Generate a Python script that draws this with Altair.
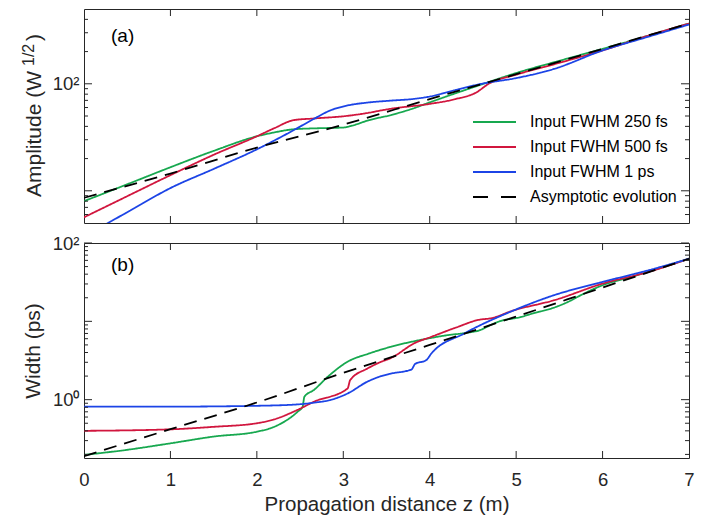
import altair as alt
import pandas as pd

FONT = "Liberation Sans"
AX = "#262626"

series_names = ["Input FWHM 250 fs", "Input FWHM 500 fs", "Input FWHM 1 ps", "Asymptotic evolution"]
series_colors = ["#17a84f", "#d1163e", "#1c44e6", "#000000"]
series_dash = [[1, 0], [1, 0], [1, 0], [13, 8]]
legend_dash = [[1, 0], [1, 0], [1, 0], [15, 13]]

# ---- panel (a): amplitude (W^1/2) ----
za_250 = [0, 0.5, 1, 1.5, 2, 2.2, 2.43, 2.7, 3.0, 3.1, 3.3, 3.55, 3.8, 4.0, 4.3, 4.6, 5.0, 5.5, 6.0, 6.5, 7.0]
amp_250 = [8.0, 11.5, 16.6, 23.6, 32.3, 35.1, 37.6, 38.4, 39.0, 40.6, 45.8, 51.0, 58.5, 67, 81.6, 98.6, 126, 164, 212, 277, 366]

za_500 = [0, 0.5, 1, 1.5, 2, 2.2, 2.43, 2.66, 3.05, 3.3, 3.44, 3.55, 4.0, 4.3, 4.55, 4.67, 5.0, 5.5, 6.0, 6.5, 7.0]
amp_500 = [5.65, 8.9, 14.0, 21.7, 32.3, 38.4, 45.8, 47.4, 50.2, 53.7, 56.4, 58.4, 64.9, 72, 84, 98.6, 121.6, 157, 205, 277, 366]

za_1ps = [0, 0.5, 1, 1.5, 2, 2.43, 2.66, 2.85, 3.05, 3.3, 3.55, 3.8, 4.0, 4.3, 4.6, 5.0, 5.44, 6.0, 6.5, 7.0]
amp_1ps = [3.75, 6.3, 10.6, 16.0, 24.4, 37.0, 47.0, 56.4, 62.7, 67, 69.6, 72, 76, 87.6, 100, 113, 137.8, 205, 271, 358]

za_asym = [0, 1, 2, 3, 4, 5, 6, 7]
amp_asym = [8.6, 14.5, 25.3, 41.5, 72, 123, 212, 366]

# ---- panel (b): width (ps) ----
zb_250 = [0, 0.5, 1, 1.5, 2, 2.2, 2.47, 2.53, 2.55, 2.66, 2.82, 3.05, 3.3, 3.55, 4.02, 4.21, 4.41, 4.6, 4.68, 4.79, 5.06, 5.17, 5.44, 5.6, 5.75, 6.0, 6.33, 7.0]
wid_250 = [0.197, 0.229, 0.277, 0.338, 0.39, 0.45, 0.70, 0.815, 1.09, 1.33, 1.96, 3.05, 3.89, 4.73, 6.15, 6.67, 7.1, 7.86, 8.7, 9.85, 11.4, 12.4, 15.0, 17.7, 21.6, 28.9, 36.8, 63]

zb_500 = [0, 1, 1.5, 2, 2.2, 2.47, 2.66, 3.05, 3.08, 3.28, 3.44, 3.55, 3.83, 4.02, 4.3, 4.6, 4.68, 4.98, 5.44, 6.0, 6.53, 7.0]
wid_500 = [0.40, 0.418, 0.45, 0.50, 0.56, 0.74, 0.94, 1.39, 1.78, 2.5, 3.05, 3.4, 5.3, 6.35, 8.3, 10.6, 10.8, 13.9, 18.6, 30.3, 42.7, 63]

zb_1ps = [0, 1, 2, 2.47, 2.66, 2.85, 3.05, 3.28, 3.44, 3.55, 3.79, 3.83, 3.96, 4.02, 4.4, 4.98, 5.44, 6.0, 6.6, 7.0]
wid_1ps = [0.815, 0.815, 0.835, 0.87, 0.916, 0.99, 1.20, 1.70, 2.0, 2.15, 2.43, 2.85, 3.2, 3.89, 7.0, 13.9, 21.6, 31.8, 47, 63]

zb_asym = [0, 1, 2, 3, 4, 5, 6, 7]
wid_asym = [0.19, 0.42, 0.92, 2.2, 5.0, 11.5, 27, 63]

# ---- axis tick lists ----
x_ticks = [1, 2, 3, 4, 5, 6]
x_labels = [0, 1, 2, 3, 4, 5, 6, 7]
a_major = [10, 100]
a_minor = [6, 7, 8, 9, 20, 30, 40, 50, 60, 70, 80, 90, 200, 300, 400]
b_major = [1, 10, 100]
b_minor = [0.2, 0.3, 0.4, 0.5, 0.6, 0.7, 0.8, 0.9, 2, 3, 4, 5, 6, 7, 8, 9, 20, 30, 40, 50, 60, 70, 80, 90]

W = 605
HA = 214
HB = 215


def long_df(pairs):
    rows = []
    for name, zs, vs in pairs:
        for z, v in zip(zs, vs):
            rows.append({"z": z, "v": v, "series": name})
    return pd.DataFrame(rows)


df_a = long_df([
    (series_names[0], za_250, amp_250),
    (series_names[1], za_500, amp_500),
    (series_names[2], za_1ps, amp_1ps),
    (series_names[3], za_asym, amp_asym),
])
df_b = long_df([
    (series_names[0], zb_250, wid_250),
    (series_names[1], zb_500, wid_500),
    (series_names[2], zb_1ps, wid_1ps),
    (series_names[3], zb_asym, wid_asym),
])

one = pd.DataFrame({"k": [0]})
xscale = alt.Scale(domain=[0, 7], nice=False, zero=False)


def panel(df, ydomain, major, minor, yaxis, xaxis, height, tag, tag_y):
    yscale = alt.Scale(type="log", domain=ydomain, nice=False)
    lines = alt.Chart(df).mark_line(strokeWidth=1.8, clip=True, interpolate="monotone").encode(
        x=alt.X("z:Q", scale=xscale, axis=xaxis),
        y=alt.Y("v:Q", scale=yscale, axis=yaxis),
        color=alt.Color("series:N", sort=series_names,
                        scale=alt.Scale(domain=series_names, range=series_colors), legend=None),
        strokeDash=alt.StrokeDash("series:N", sort=series_names,
                                  scale=alt.Scale(domain=series_names, range=series_dash), legend=None),
    )
    layers = [lines]
    ymaj = pd.DataFrame({"v": major})
    ymin = pd.DataFrame({"v": minor})
    for d, ln in ((ymaj, 8), (ymin, 4)):
        layers.append(alt.Chart(d).mark_rule(color=AX, strokeWidth=1).encode(
            y=alt.Y("v:Q", scale=yscale, axis=yaxis), x=alt.value(0), x2=alt.value(ln)))
        layers.append(alt.Chart(d).mark_rule(color=AX, strokeWidth=1).encode(
            y=alt.Y("v:Q", scale=yscale, axis=yaxis), x=alt.value(W), x2=alt.value(W - ln)))
    xt = pd.DataFrame({"z": x_ticks})
    layers.append(alt.Chart(xt).mark_rule(color=AX, strokeWidth=1).encode(
        x=alt.X("z:Q", scale=xscale, axis=xaxis), y=alt.value(height), y2=alt.value(height - 7)))
    layers.append(alt.Chart(xt).mark_rule(color=AX, strokeWidth=1).encode(
        x=alt.X("z:Q", scale=xscale, axis=xaxis), y=alt.value(0), y2=alt.value(7)))
    layers.append(alt.Chart(one).mark_text(text=tag, align="left", baseline="middle",
                                           fontSize=19, font=FONT, color="black").encode(
        x=alt.value(27), y=alt.value(tag_y)))
    return layers


a_yaxis = alt.Axis(values=[100], labelExpr="'10²'", ticks=False, domain=False, grid=False,
                   title=None, labelFontSize=18.5, labelPadding=5)
b_yaxis = alt.Axis(values=[1, 100], labelExpr="datum.value == 1 ? '10⁰' : '10²'", ticks=False,
                   domain=False, grid=False, title="Width (ps)", titleFontSize=21,
                   titlePadding=9, labelFontSize=18.5, labelPadding=5)
b_xaxis = alt.Axis(values=x_labels, format="d", ticks=False, domain=False, grid=False,
                   labelFlush=False, labelPadding=12, labelFontSize=18.5,
                   title="Propagation distance z (m)", titleFontSize=20.5, titlePadding=6)

layers_a = panel(df_a, [5, 500], a_major, a_minor, a_yaxis, None, HA, "(a)", 27)

# manual legend inside panel (a)
legend_rows_y = [113, 138, 163, 188]
for name, col, dsh, ly in zip(series_names, series_colors, legend_dash, legend_rows_y):
    layers_a.append(alt.Chart(one).mark_rule(color=col, strokeWidth=2, strokeDash=dsh).encode(
        x=alt.value(389), x2=alt.value(432), y=alt.value(ly)))
    layers_a.append(alt.Chart(one).mark_text(text=name, align="left", baseline="middle",
                                             fontSize=16, font=FONT, color="black").encode(
        x=alt.value(446), y=alt.value(ly)))

# y-axis title with superscript for panel (a)
layers_a.append(alt.Chart(one).mark_text(text="Amplitude (W", angle=270, align="left",
                                         baseline="alphabetic", fontSize=21, font=FONT,
                                         color=AX).encode(x=alt.value(-43), y=alt.value(188)))
layers_a.append(alt.Chart(one).mark_text(text="1/2", angle=270, align="left",
                                         baseline="alphabetic", fontSize=16, font=FONT,
                                         color=AX).encode(x=alt.value(-50), y=alt.value(57)))
layers_a.append(alt.Chart(one).mark_text(text=")", angle=270, align="left",
                                         baseline="alphabetic", fontSize=21, font=FONT,
                                         color=AX).encode(x=alt.value(-43), y=alt.value(32)))

layers_b = panel(df_b, [0.18, 100], b_major, b_minor, b_yaxis, b_xaxis, HB, "(b)", 22)

top = alt.layer(*layers_a).properties(width=W, height=HA)
bottom = alt.layer(*layers_b).properties(width=W, height=HB)

chart = alt.vconcat(top, bottom, spacing=9).resolve_scale(
    color="independent", strokeDash="independent", y="independent", x="independent"
).properties(
    padding={"left": 12, "top": 0, "right": 5, "bottom": 0}
).configure_view(stroke=AX, strokeWidth=1).configure_axis(
    labelFont=FONT, titleFont=FONT, labelColor=AX, titleColor=AX, titleFontWeight="normal"
)

chart.save("out.html", embed_options={"renderer": "svg", "actions": False})
